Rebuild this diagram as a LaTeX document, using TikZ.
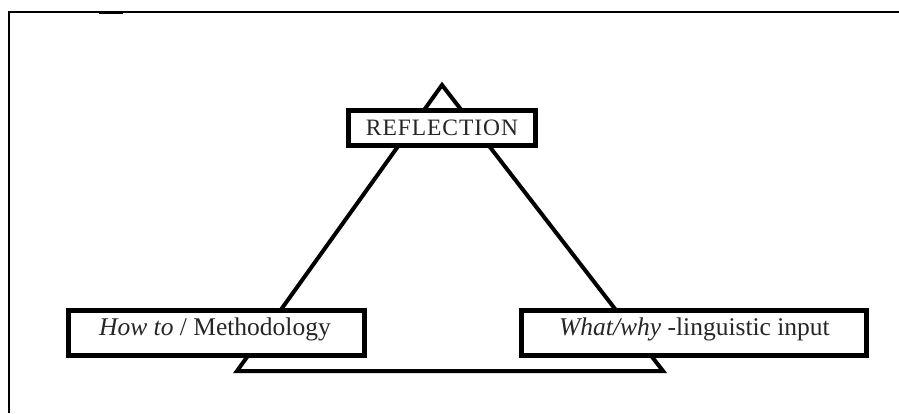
\documentclass[tikz,border=0pt]{standalone}
\usepackage{fontspec}
\setmainfont{Liberation Serif}
\begin{document}
\begin{tikzpicture}[x=1pt,y=-1pt,
  frameline/.style={line width=2pt,black},
  side/.style={line width=4pt,line join=miter,black},
  boxframe/.style={draw=black,line width=5pt,fill=white,inner sep=0pt,minimum height=35pt},
  boxtext/.style={anchor=base,inner sep=0pt,text=black!85,font=\fontsize{25.5}{28}\selectfont}]
\path[use as bounding box] (0,0) rectangle (899,413);

% page frame (top and left edges only)
\draw[frameline] (9,413) -- (9,12) -- (899,12);
\draw[line width=3pt] (99,12.5) -- (123,12.5);

% corners of the triangle
\coordinate (apex) at (442,85);
\coordinate (bl) at (237,371);
\coordinate (br) at (663,371);
\draw[side] (apex) -- (bl) -- (br) -- cycle;

% labelled boxes on the corners
\node[boxframe,minimum width=187pt,minimum height=35pt] (refl) at (442,128) {};
\node[boxframe,minimum width=296pt,minimum height=45pt] (how) at (216.5,333) {};
\node[boxframe,minimum width=345pt,minimum height=45pt] (what) at (694,333) {};

\node[boxtext,font=\fontsize{23.5}{26}\selectfont\addfontfeature{LetterSpace=4}] (refltext) at (442,135) {REFLECTION};
\node[boxtext] (howtext) at (215,335) {\textit{How to} / Methodology};
\node[boxtext] (whattext) at (694.5,335) {\textit{What/why} -linguistic input};
\end{tikzpicture}
\end{document}
